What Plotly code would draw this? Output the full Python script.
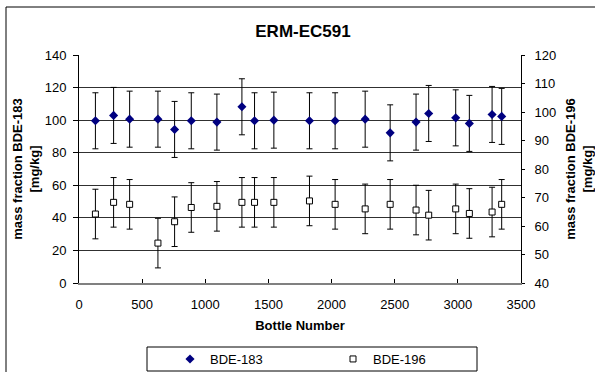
import plotly.graph_objects as go

bottle = [130, 274, 401, 625, 757, 889, 1092, 1290, 1390, 1543,
          1825, 2028, 2266, 2464, 2669, 2769, 2983, 3091, 3271, 3347]
bde183 = [99.6, 102.9, 100.6, 100.6, 94.3, 99.6, 98.8, 108.2, 99.6, 100.0,
          99.6, 99.6, 100.6, 92.2, 98.8, 104.1, 101.4, 98.0, 103.5, 102.3]
bde183_err = [17.2] * 20
bde196 = [64.2, 68.3, 67.6, 54.0, 61.5, 66.5, 66.9, 68.3, 68.3, 68.3,
          68.8, 67.6, 66.0, 67.6, 65.6, 63.8, 66.0, 64.4, 64.9, 67.6]
bde196_err = [8.7] * 20

W, H = 595, 372
L, R, T, B = 79, 521, 55, 283

def px_x(p):
    return (p - L) / (R - L)

def px_y(p):
    return (B - p) / (B - T)

font = "Liberation Sans, Arial, sans-serif"

fig = go.Figure()
fig.add_trace(go.Scatter(
    x=bottle, y=bde183, mode="markers", name="BDE-183",
    marker=dict(symbol="diamond", size=7, color="#000080", line=dict(width=0)),
    error_y=dict(type="data", array=bde183_err, visible=True, color="black",
                 thickness=1, width=3),
    yaxis="y"))
fig.add_trace(go.Scatter(
    x=bottle, y=bde196, mode="markers", name="BDE-196",
    marker=dict(symbol="square", size=6, color="white", line=dict(width=1, color="black")),
    error_y=dict(type="data", array=bde196_err, visible=True, color="black",
                 thickness=1, width=3),
    yaxis="y2"))

fig.update_layout(
    width=W, height=H,
    margin=dict(l=L, r=W - R, t=T, b=H - B, pad=0, autoexpand=False),
    paper_bgcolor="white", plot_bgcolor="white",
    font=dict(family=font, size=13, color="black"),
    title=dict(text="<b>ERM-EC591</b>", x=303 / W, xref="container", xanchor="center",
               y=1 - 31 / H, yref="container", yanchor="middle",
               font=dict(size=17, family=font)),
    xaxis=dict(range=[0, 3500], dtick=500, tick0=0, showgrid=False,
               showline=True, linecolor="#808080", linewidth=2,
               ticks="inside", ticklen=4, tickcolor="black", ticklabelstandoff=8,
               title=dict(text="<b>Bottle Number</b>", standoff=10, font=dict(size=13)),
               zeroline=False, tickfont=dict(size=13)),
    yaxis=dict(range=[0, 140], dtick=20, showgrid=True, gridcolor="#303030", gridwidth=1,
               showline=True, linecolor="black", linewidth=1,
               ticks="outside", ticklen=5, tickcolor="black", zeroline=False,
               ticklabelstandoff=4,
               title=dict(text="<b>mass fraction BDE-183<br>[mg/kg]</b>", standoff=2,
                          font=dict(size=13)),
               tickfont=dict(size=13)),
    yaxis2=dict(range=[40, 120], dtick=10, overlaying="y", side="right", showgrid=False,
                showline=True, linecolor="black", linewidth=1,
                ticks="outside", ticklen=3, tickcolor="black", zeroline=False,
                ticklabelstandoff=7,
                title=dict(text="<b>mass fraction BDE-196<br>[mg/kg]</b>", standoff=17,
                           font=dict(size=13)),
                tickfont=dict(size=13)),
    legend=dict(orientation="h", x=px_x(170), y=px_y(359), xanchor="left", yanchor="middle",
                xref="paper", yref="paper",
                borderwidth=0, bgcolor="rgba(0,0,0,0)",
                entrywidth=118, entrywidthmode="pixels",
                font=dict(size=13, family=font), itemwidth=30),
    showlegend=True,
    shapes=[
        dict(type="rect", xref="paper", yref="paper",
             x0=px_x(6), x1=px_x(620), y0=px_y(400), y1=px_y(7),
             line=dict(color="black", width=1), fillcolor="rgba(0,0,0,0)", layer="below"),
        dict(type="rect", xref="paper", yref="paper",
             x0=px_x(147), x1=px_x(477), y0=px_y(371), y1=px_y(347),
             line=dict(color="black", width=1), fillcolor="white", layer="below"),
    ],
)

fig.write_html("out.html")
